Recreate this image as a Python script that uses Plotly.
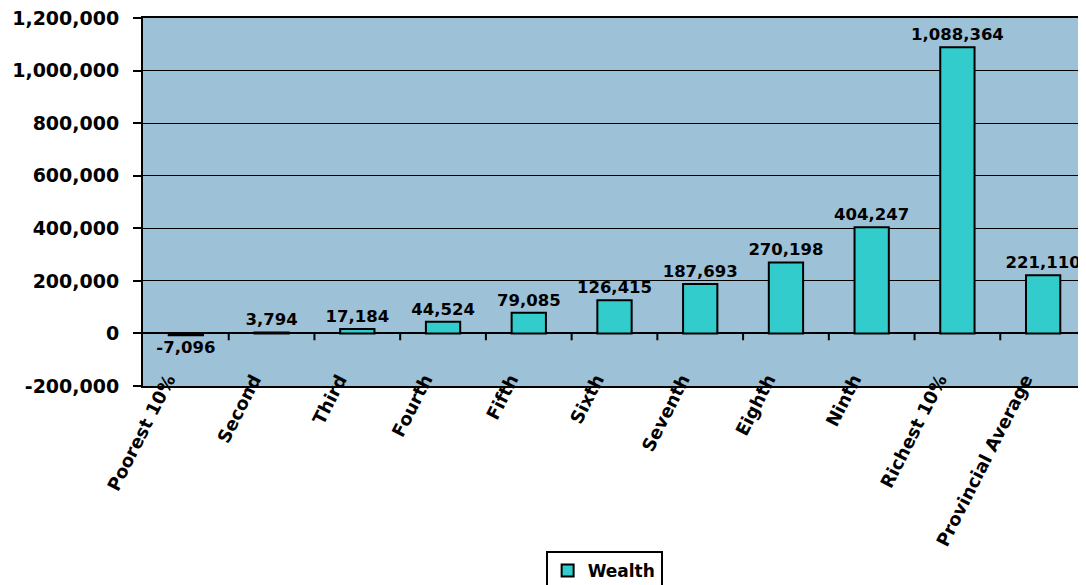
import plotly.graph_objects as go

categories = ["Poorest 10%", "Second", "Third", "Fourth", "Fifth", "Sixth",
              "Seventh", "Eighth", "Ninth", "Richest 10%", "Provincial Average"]
wealth = [-7096, 3794, 17184, 44524, 79085, 126415, 187693, 270198, 404247, 1088364, 221110]

tick_vals = [-200000, 0, 200000, 400000, 600000, 800000, 1000000, 1200000]
tick_text = [f"{v:,}" for v in tick_vals]

fnt = "DejaVu Sans"

fig = go.Figure()
fig.add_trace(go.Bar(
    x=categories,
    y=wealth,
    name="Wealth",
    marker=dict(color="#33CCCC", line=dict(color="black", width=2)),
    text=[f"{v:,}" for v in wealth],
    textposition="outside",
    textfont=dict(family=fnt, size=16.5, color="black", weight="bold"),
    cliponaxis=False,
))

# small tick marks between categories on the zero line
for k in range(len(categories) - 1):
    fig.add_shape(type="line", xref="x", yref="y",
                  x0=k + 0.5, x1=k + 0.5, y0=0, y1=-26000,
                  line=dict(color="black", width=2))

fig.update_xaxes(
    tickangle=-63,
    tickfont=dict(family=fnt, size=18, color="black", weight="bold"),
    ticklabelstandoff=-26, ticklabelshift=-18, ticklabeloverflow="allow",
    showline=True, linecolor="black", linewidth=2, mirror=True,
    ticks="", showgrid=False, automargin=False,
)
fig.update_yaxes(
    range=[-200000, 1200000],
    tickvals=tick_vals, ticktext=tick_text,
    tickfont=dict(family=fnt, size=19, color="black", weight="bold"),
    ticklabelstandoff=10, ticklabeloverflow="allow",
    showline=True, linecolor="black", linewidth=2,
    ticks="outside", ticklen=8, tickwidth=2, tickcolor="black",
    showgrid=True, gridcolor="black", gridwidth=1,
    zeroline=True, zerolinecolor="black", zerolinewidth=2,
    automargin=False,
)

# page body adds ~8px margin, so the figure is sized to fit the window
fig.update_layout(
    width=1078, height=577,
    margin=dict(l=135, r=0, t=10, b=199, autoexpand=False),
    plot_bgcolor="#9DC1D7",
    paper_bgcolor="white",
    bargap=0.6,
    uniformtext=dict(minsize=16.5, mode="show"),
    showlegend=True,
    legend=dict(orientation="h", xanchor="center", x=0.489, yanchor="top", y=-0.448,
                bordercolor="black", borderwidth=2, bgcolor="white",
                font=dict(family=fnt, size=17, color="black", weight="bold")),
)

fig.write_html("out.html")
